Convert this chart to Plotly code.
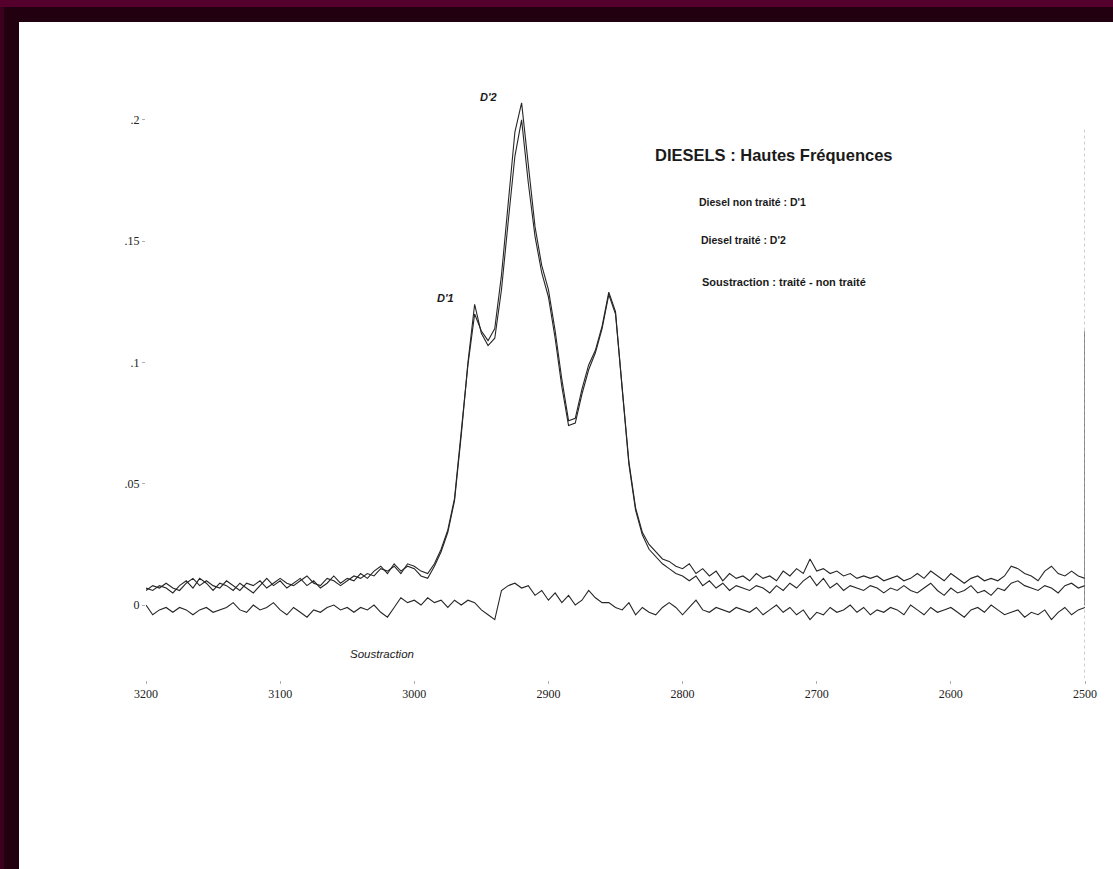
import plotly.graph_objects as go

# ---------------- data ----------------
wavenumbers = list(range(3200, 2499, -5))  # 3200 -> 2500, step 5 cm-1

d1_non_traite = [
    0.007, 0.006, 0.008, 0.007, 0.005, 0.008, 0.010, 0.007, 0.011, 0.009,  # 3200-3155
    0.006, 0.009, 0.008, 0.006, 0.009, 0.007, 0.005, 0.008, 0.011, 0.008,  # 3150-3105
    0.010, 0.007, 0.009, 0.011, 0.008, 0.010, 0.007, 0.009, 0.012, 0.009,  # 3100-3055
    0.011, 0.010, 0.013, 0.011, 0.014, 0.016, 0.013, 0.017, 0.014, 0.016,  # 3050-3005
    0.015, 0.012, 0.011, 0.016, 0.022, 0.030, 0.043, 0.070, 0.100, 0.124,  # 3000-2955
    0.112, 0.107, 0.110, 0.130, 0.158, 0.185, 0.200, 0.174, 0.152, 0.137,  # 2950-2905
    0.127, 0.110, 0.090, 0.074, 0.075, 0.087, 0.097, 0.104, 0.114, 0.128,  # 2900-2855
    0.120, 0.090, 0.059, 0.040, 0.030, 0.025, 0.022, 0.019, 0.018, 0.016,  # 2850-2805
    0.015, 0.017, 0.013, 0.015, 0.012, 0.014, 0.010, 0.013, 0.011, 0.012,  # 2800-2755
    0.010, 0.013, 0.011, 0.012, 0.010, 0.014, 0.012, 0.015, 0.013, 0.019,  # 2750-2705
    0.014, 0.015, 0.013, 0.014, 0.012, 0.013, 0.011, 0.012, 0.011, 0.012,  # 2700-2655
    0.010, 0.011, 0.012, 0.010, 0.011, 0.013, 0.011, 0.014, 0.012, 0.010,  # 2650-2605
    0.013, 0.011, 0.009, 0.011, 0.012, 0.010, 0.011, 0.010, 0.012, 0.016,  # 2600-2555
    0.015, 0.013, 0.012, 0.010, 0.014, 0.016, 0.013, 0.012, 0.014, 0.012,  # 2550-2505
    0.011,                                                                 # 2500
]

d2_traite = [
    0.006, 0.008, 0.007, 0.009, 0.007, 0.006, 0.009, 0.011, 0.008, 0.010,
    0.008, 0.007, 0.010, 0.008, 0.006, 0.009, 0.008, 0.010, 0.007, 0.009,
    0.011, 0.009, 0.008, 0.010, 0.012, 0.009, 0.008, 0.011, 0.010, 0.008,
    0.010, 0.012, 0.011, 0.013, 0.012, 0.015, 0.014, 0.016, 0.013, 0.017,
    0.016, 0.014, 0.013, 0.017, 0.023, 0.031, 0.044, 0.071, 0.099, 0.120,
    0.113, 0.109, 0.114, 0.136, 0.166, 0.195, 0.207, 0.180, 0.156, 0.140,
    0.130, 0.113, 0.093, 0.076, 0.077, 0.089, 0.099, 0.105, 0.115, 0.129,
    0.121, 0.089, 0.058, 0.039, 0.029, 0.023, 0.020, 0.017, 0.015, 0.013,
    0.012, 0.010, 0.012, 0.008, 0.010, 0.007, 0.009, 0.006, 0.008, 0.007,
    0.006, 0.008, 0.007, 0.005, 0.008, 0.006, 0.009, 0.007, 0.010, 0.012,
    0.008, 0.011, 0.007, 0.009, 0.006, 0.008, 0.007, 0.006, 0.008, 0.007,
    0.005, 0.007, 0.006, 0.008, 0.006, 0.005, 0.007, 0.009, 0.006, 0.004,
    0.007, 0.005, 0.006, 0.008, 0.005, 0.006, 0.004, 0.007, 0.006, 0.009,
    0.010, 0.008, 0.007, 0.006, 0.008, 0.007, 0.005, 0.008, 0.009, 0.007,
    0.008,
]

soustraction = [
    0.000, -0.004, -0.002, -0.001, -0.003, -0.001, -0.002, -0.004, -0.002, -0.001,
    -0.003, -0.002, -0.001, 0.001, -0.002, -0.003, 0.000, -0.002, -0.001, 0.001,
    -0.002, -0.004, -0.001, -0.003, -0.005, -0.002, -0.003, -0.001, 0.000, -0.002,
    -0.001, -0.003, -0.001, -0.002, 0.000, -0.003, -0.005, -0.001, 0.003, 0.001,
    0.002, 0.000, 0.003, 0.001, 0.002, -0.001, 0.002, 0.000, 0.002, 0.001,
    -0.002, -0.004, -0.006, 0.006, 0.008, 0.009, 0.007, 0.008, 0.004, 0.006,
    0.002, 0.005, 0.001, 0.004, 0.000, 0.002, 0.006, 0.003, 0.001, 0.001,
    -0.001, -0.002, 0.001, -0.004, -0.001, -0.003, -0.004, -0.001, 0.001, -0.001,
    -0.004, -0.001, 0.002, -0.002, -0.003, -0.001, -0.002, -0.003, -0.001, -0.002,
    -0.003, -0.001, -0.004, -0.002, 0.000, -0.003, -0.001, -0.004, -0.002, -0.006,
    -0.003, -0.004, -0.001, -0.003, -0.002, 0.000, -0.003, -0.001, -0.004, -0.002,
    -0.003, -0.001, -0.002, -0.004, 0.000, -0.002, -0.004, -0.001, -0.003, -0.002,
    -0.001, -0.003, -0.005, -0.002, -0.001, -0.003, 0.000, -0.002, -0.004, -0.003,
    -0.002, -0.005, -0.003, -0.004, -0.002, -0.006, -0.003, -0.001, -0.004, -0.002,
    -0.001,
]

# vertical edge at the end of the recorded range
edge_x = [2500, 2500]
edge_y = [0.196, -0.030]
edge_dark_y = [0.113, 0.000]

x_ticks = [3200, 3100, 3000, 2900, 2800, 2700, 2600, 2500]
y_ticks = [0, 0.05, 0.1, 0.15, 0.2]
y_tick_labels = ["0", ".05", ".1", ".15", ".2"]

# ---------------- figure ----------------
W, H = 1113, 869
L, R, T, B = 146, 28, 60, 189
pw, ph = W - L - R, H - T - B


def px2paper_x(px):
    return (px - L) / pw


def py2paper_y(py):
    return (H - B - py) / ph


fig = go.Figure()

line_color = "#262626"
for name, ys in [("Diesel non traité : D'1", d1_non_traite),
                 ("Diesel traité : D'2", d2_traite),
                 ("Soustraction", soustraction)]:
    fig.add_trace(go.Scatter(x=wavenumbers, y=ys, mode="lines", name=name,
                             line=dict(color=line_color, width=1.1),
                             showlegend=False))

fig.add_trace(go.Scatter(x=edge_x, y=edge_y, mode="lines", showlegend=False,
                         line=dict(color="#9a9a9a", width=1, dash="dot")))
fig.add_trace(go.Scatter(x=edge_x, y=edge_dark_y, mode="lines", showlegend=False,
                         line=dict(color="#555555", width=1.2)))

# page frame (dark maroon border of the scanned slide)
shapes = [
    dict(type="rect", xref="paper", yref="paper", layer="below",
         x0=px2paper_x(19), x1=px2paper_x(W + 5), y0=py2paper_y(H + 5), y1=py2paper_y(22),
         fillcolor="white", line=dict(width=0)),
    dict(type="rect", xref="paper", yref="paper", layer="below",
         x0=px2paper_x(-5), x1=px2paper_x(W + 5), y0=py2paper_y(7), y1=py2paper_y(-5),
         fillcolor="#55002c", line=dict(width=0)),
    dict(type="rect", xref="paper", yref="paper", layer="below",
         x0=px2paper_x(-5), x1=px2paper_x(4), y0=py2paper_y(H + 5), y1=py2paper_y(7),
         fillcolor="#3c001f", line=dict(width=0)),
]

sans = "Liberation Sans, Arial, sans-serif"
serif = "Liberation Serif, Times New Roman, serif"

annotations = [
    dict(x=2732, y=0.1856, text="<b>DIESELS : Hautes Fréquences</b>",
         xanchor="center", yanchor="middle", font=dict(family=sans, size=16.5, color="#1a1a1a")),
    dict(x=2789, y=0.1662, text="<b>Diesel non traité : D'1</b>",
         xanchor="left", yanchor="middle", font=dict(family=sans, size=10.5, color="#1a1a1a")),
    dict(x=2788, y=0.1505, text="<b>Diesel traité : D'2</b>",
         xanchor="left", yanchor="middle", font=dict(family=sans, size=10.5, color="#1a1a1a")),
    dict(x=2787, y=0.1332, text="<b>Soustraction : traité - non traité</b>",
         xanchor="left", yanchor="middle", font=dict(family=sans, size=11, color="#1a1a1a")),
    dict(x=2945, y=0.2095, text="<b><i>D'2</i></b>",
         xanchor="center", yanchor="middle", font=dict(family=sans, size=11, color="#1a1a1a")),
    dict(x=2977, y=0.1266, text="<b><i>D'1</i></b>",
         xanchor="center", yanchor="middle", font=dict(family=sans, size=11, color="#1a1a1a")),
    dict(x=3024, y=-0.0202, text="<i>Soustraction</i>",
         xanchor="center", yanchor="middle", font=dict(family=sans, size=11.5, color="#1a1a1a")),
]
for a in annotations:
    a.update(xref="x", yref="y", showarrow=False)

fig.update_layout(
    width=W, height=H,
    margin=dict(l=L, r=R, t=T, b=B, pad=0),
    paper_bgcolor="#220010",
    plot_bgcolor="white",
    shapes=shapes,
    annotations=annotations,
    showlegend=False,
    xaxis=dict(range=[3200, 2500], tickvals=x_ticks, ticktext=[str(v) for v in x_ticks],
               showgrid=False, zeroline=False, showline=False,
               ticks="outside", ticklen=3, tickcolor="#b0b0b0", tickwidth=1,
               tickfont=dict(family=serif, size=12, color="#222222"), fixedrange=True),
    yaxis=dict(range=[-0.0309, 0.2247], tickvals=y_ticks, ticktext=y_tick_labels,
               showgrid=False, zeroline=False, showline=False,
               ticks="outside", ticklen=3, tickcolor="#b0b0b0", tickwidth=1,
               tickfont=dict(family=serif, size=12, color="#222222"), fixedrange=True),
)

fig.write_html(
    "out.html",
    config={"displayModeBar": False},
    post_script="document.body.style.margin='0';document.body.style.padding='0';"
                "document.body.style.overflow='hidden';"
                "document.documentElement.style.overflow='hidden';",
)
